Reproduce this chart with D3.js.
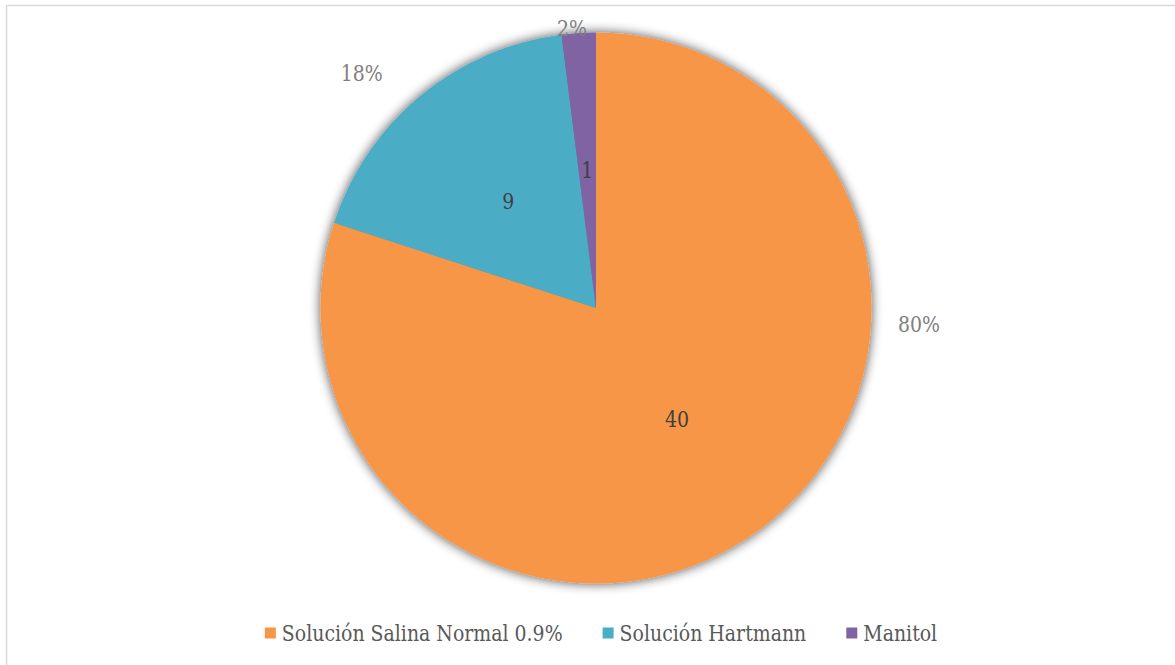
<!DOCTYPE html>
<html>
<head>
<meta charset="utf-8">
<script src="https://cdn.jsdelivr.net/npm/d3@7"></script>
<style>
  html, body { margin: 0; padding: 0; background: #fff; }
  svg { display: block; }
  text { font-family: "DejaVu Serif", serif; }
</style>
</head>
<body>
<svg id="chart" width="1175" height="665"></svg>
<script>
const categories = ["Solución Salina Normal 0.9%", "Solución Hartmann", "Manitol"];
const values = [40, 9, 1];
const colors = ["#F79646", "#4BACC6", "#8064A2"];
// outside percentage label placement (angle in degrees clockwise from top, radius factor)
const pctLabelAngles = [93.0, 315.0, 355.1];
const pctLabelRadii = [1.174, 1.203, 1.02];

const W = 1175, H = 665;
const cx = 596, cy = 308, R = 275.5;
const FS = 22, SX = 0.86; // font size and horizontal squeeze to mimic Times metrics

const svg = d3.select("#chart");

svg.append("rect")
  .attr("x", 6.5).attr("y", 5.5)
  .attr("width", W).attr("height", H)
  .attr("fill", "none").attr("stroke", "#d9d9d9").attr("stroke-width", 1.5);

const defs = svg.append("defs");
const f = defs.append("filter").attr("id", "shadow")
  .attr("x", "-10%").attr("y", "-10%").attr("width", "120%").attr("height", "120%");
f.append("feGaussianBlur").attr("in", "SourceAlpha").attr("stdDeviation", 6).attr("result", "b");
f.append("feComponentTransfer").attr("in", "b").attr("result", "s")
  .append("feFuncA").attr("type", "linear").attr("slope", 0.7);
const m = f.append("feMerge");
m.append("feMergeNode").attr("in", "s");
m.append("feMergeNode").attr("in", "SourceGraphic");

const total = d3.sum(values);
const data = categories.map((c, i) => ({ name: c, value: values[i], color: colors[i], i }));

const pie = d3.pie().value(d => d.value).sort(null);
const arcs = pie(data);
const arc = d3.arc().innerRadius(0).outerRadius(R);

const g = svg.append("g").attr("transform", `translate(${cx},${cy})`);
g.append("g").attr("filter", "url(#shadow)")
  .selectAll("path").data(arcs).enter().append("path")
  .attr("d", arc)
  .attr("fill", d => d.data.color);

g.selectAll("text.val").data(arcs).enter().append("text")
  .attr("class", "val")
  .attr("transform", d => `translate(${arc.centroid(d)[0]},${arc.centroid(d)[1]}) scale(${SX},1)`)
  .attr("text-anchor", "middle")
  .attr("dominant-baseline", "central")
  .attr("font-size", FS)
  .attr("fill", "#404040")
  .text(d => d.data.value);

g.selectAll("text.pct").data(arcs).enter().append("text")
  .attr("class", "pct")
  .attr("transform", d => {
    const a = pctLabelAngles[d.data.i] * Math.PI / 180, r = R * pctLabelRadii[d.data.i];
    return `translate(${Math.sin(a) * r},${-Math.cos(a) * r}) scale(${SX},1)`;
  })
  .attr("text-anchor", "middle")
  .attr("dominant-baseline", "central")
  .attr("font-size", FS)
  .attr("fill", "#808080")
  .text(d => Math.round(d.data.value / total * 100) + "%");

const legend = svg.append("g").attr("transform", `translate(0,633)`);
const items = legend.selectAll("g").data(data).enter().append("g");
items.append("rect").attr("width", 11).attr("height", 11).attr("y", -5.5)
  .attr("fill", d => d.color);
items.append("text").attr("class", "leg")
  .attr("transform", `translate(17,0) scale(${SX},1)`)
  .attr("dominant-baseline", "central")
  .attr("font-size", FS).attr("fill", "#595959")
  .text(d => d.name);
let widths = [];
items.each(function () { widths.push(this.getBBox().width); });
const gap = 40;
const totalW = d3.sum(widths) + gap * (widths.length - 1);
let x0 = 601 - totalW / 2;
items.each(function (d, i) {
  d3.select(this).attr("transform", `translate(${x0},0)`);
  x0 += widths[i] + gap;
});
</script>
</body>
</html>
